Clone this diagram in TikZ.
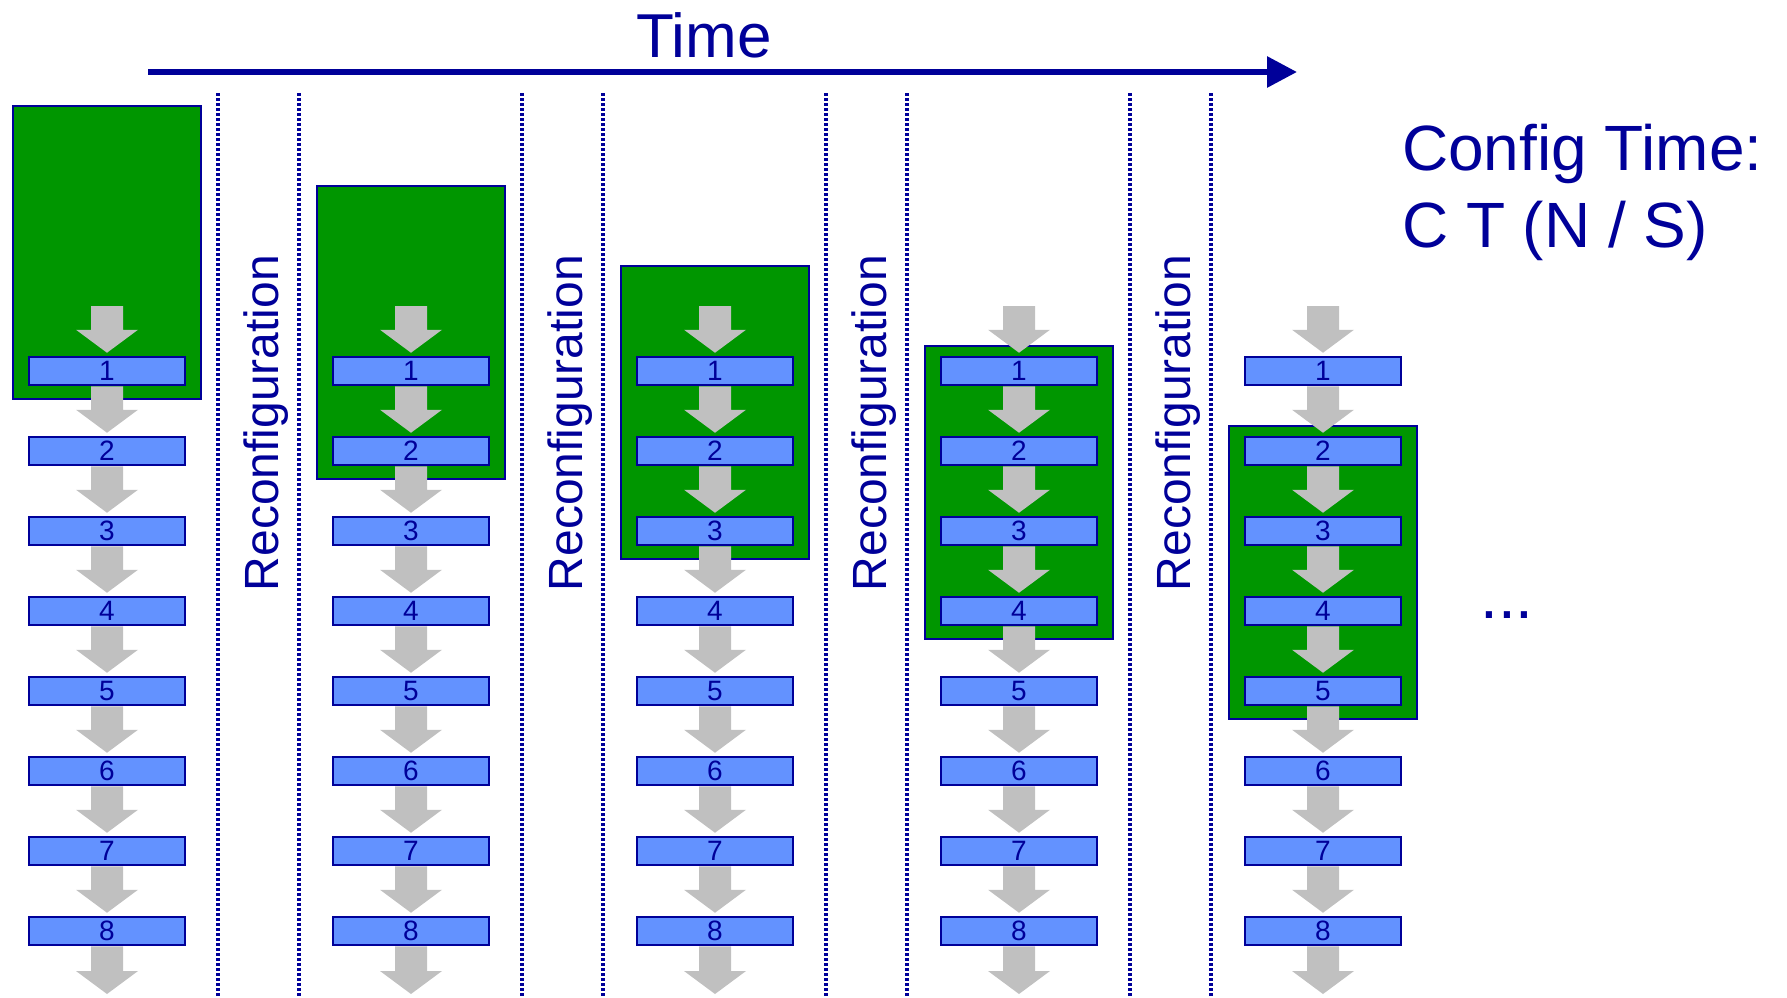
\documentclass[tikz,border=0pt]{standalone}
\usepackage{fontspec}
\setmainfont{Liberation Sans}
\usetikzlibrary{arrows.meta,calc}
\definecolor{dblue}{RGB}{0,0,153}
\definecolor{cgreen}{RGB}{0,150,0}
\definecolor{cblock}{RGB}{99,146,255}
\definecolor{cgray}{RGB}{192,192,192}
\pgfdeclarelayer{bglayer}
\pgfdeclarelayer{midlayer}
\pgfsetlayers{bglayer,midlayer,main}
\newcommand{\fatarrow}[2]{\fill[cgray] ($(#1)+(-16,0)$) -- ($(#1)+(16,0)$) -- ($(#2)+(16,-23)$) -- ($(#2)+(31,-23)$) -- (#2) -- ($(#2)+(-31,-23)$) -- ($(#2)+(-16,-23)$) -- cycle;}
\begin{document}
\begin{tikzpicture}[x=0.5pt,y=-0.5pt,
  blockbox/.style={draw=dblue,fill=cblock,line width=1.25pt,minimum width=78pt,minimum height=14pt,inner sep=0pt,font=\fontsize{14}{16}\selectfont,text=dblue},
  greenbox/.style={draw=dblue,fill=cgreen,line width=1.25pt,minimum width=94pt,minimum height=146.5pt,inner sep=0pt},
  dotline/.style={draw=dblue,line width=1.7pt,dash pattern=on 1.6pt off 0.9pt},
  reconf/.style={rotate=90,anchor=base,text=dblue,font=\fontsize{24}{28}\selectfont},
  bigtext/.style={text=dblue,font=\fontsize{32}{38}\selectfont},
  timearrow/.style={draw=dblue,line width=3pt,-{Triangle[length=15pt,width=15pt]}}]
\useasboundingbox (0,0) rectangle (1787,997);
% time axis
\coordinate (ta) at (148,72);
\coordinate (tb) at (1297,72);
\draw[timearrow] (ta) -- (tb);
\node[text=dblue,font=\fontsize{31}{36}\selectfont,anchor=base] (time) at (704,57) {Time};
% config time
\node[bigtext,anchor=base west] (cfg1) at (1395,170) {Config Time:};
\node[bigtext,anchor=base west] (cfg2) at (1395,247) {C T (N / S)};
\node[bigtext,anchor=base] (dots) at (1507,618) {...};
% columns
\foreach \c in {0,...,4}{
  \pgfmathsetmacro{\xc}{107+304*\c}
  \begin{pgfonlayer}{bglayer}
    \node[greenbox] (g\c) at (\xc,252.5+80*\c) {};
  \end{pgfonlayer}
  \foreach \i in {1,...,8}{
    \node[blockbox] (b\c-\i) at (\xc,371+80*\i-80) {\i};
    \coordinate (t\c-\i) at ($(b\c-\i.north)+(0,-3)$);
  }
  \coordinate (s\c) at (\xc,306);
  \coordinate (e\c) at (\xc,994);
  \begin{pgfonlayer}{midlayer}
    \fatarrow{s\c}{t\c-1}
    \foreach \i in {2,...,8}{
      \pgfmathtruncatemacro{\j}{\i-1}
      \fatarrow{b\c-\j.south}{t\c-\i}
    }
    \fatarrow{b\c-8.south}{e\c}
  \end{pgfonlayer}
}
% reconfiguration gaps
\foreach \c in {0,...,3}{
  \pgfmathsetmacro{\xc}{107+304*\c}
  \coordinate (da\c) at (\xc+111,93);
  \coordinate (db\c) at (\xc+111,997);
  \coordinate (dc\c) at (\xc+192,93);
  \coordinate (dd\c) at (\xc+192,997);
  \draw[dotline] (da\c) -- (db\c);
  \draw[dotline] (dc\c) -- (dd\c);
  \node[reconf] (r\c) at (\xc+171,423) {Reconfiguration};
}
\end{tikzpicture}
\end{document}
